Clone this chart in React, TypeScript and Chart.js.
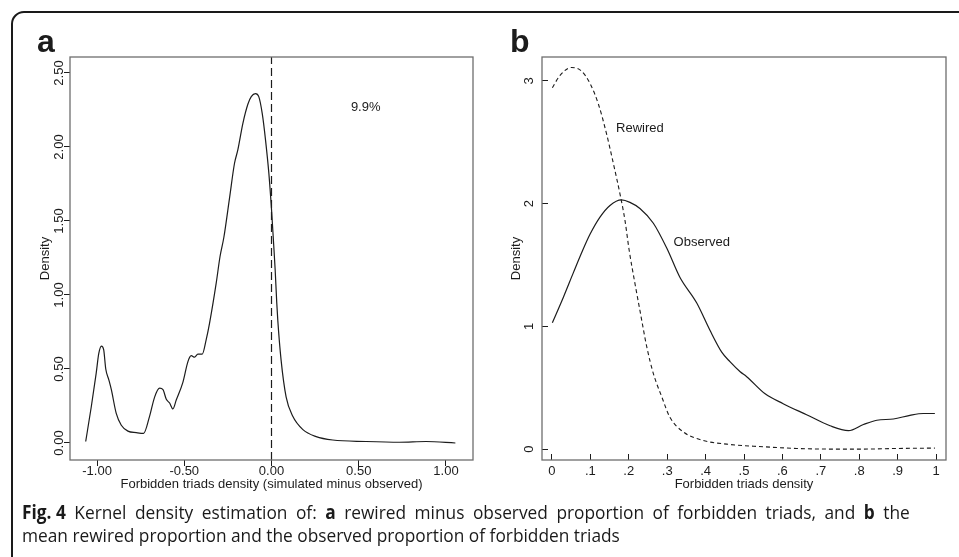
import { useEffect, useLayoutEffect, useRef, useState } from "react";
import { Chart, registerables } from "chart.js";

Chart.register(...registerables);

// ---- Panel a: simulated minus observed forbidden-triad density ----
const diffX = [
  -1.065, -1.033, -1.005, -0.99, -0.975, -0.962, -0.95, -0.932, -0.918, -0.89,
  -0.861, -0.823, -0.775, -0.733, -0.699, -0.67, -0.641, -0.622, -0.603, -0.584,
  -0.565, -0.546, -0.508, -0.479, -0.46, -0.441, -0.422, -0.397, -0.374, -0.355,
  -0.317, -0.295, -0.273, -0.24, -0.212, -0.193, -0.164, -0.135, -0.116, -0.092,
  -0.073, -0.053, -0.034, -0.015, 0.0, 0.012, 0.021, 0.03, 0.036, 0.055,
  0.084, 0.122, 0.18, 0.256, 0.351, 0.542, 0.733, 0.886, 1.054,
];
const diffDensity = [
  0.01, 0.245, 0.47, 0.605, 0.655, 0.63, 0.5, 0.425, 0.36, 0.2,
  0.12, 0.08, 0.07, 0.065, 0.18, 0.31, 0.37, 0.36, 0.295, 0.27,
  0.23, 0.29, 0.41, 0.55, 0.59, 0.58, 0.6, 0.6, 0.7, 0.81,
  1.08, 1.26, 1.39, 1.66, 1.89, 1.98, 2.16, 2.29, 2.34, 2.36,
  2.34, 2.225, 2.045, 1.82, 1.58, 1.35, 1.17, 0.95, 0.83, 0.56,
  0.31, 0.18, 0.09, 0.043, 0.02, 0.01, 0.005, 0.01, 0.0,
];
const diffTicksX = [-1, -0.5, 0, 0.5, 1];
const diffTicksY = [0, 0.5, 1, 1.5, 2, 2.5];
const diffRefX = 0; // observed value marker
const diffShareLabel = "9.9%";
const diffShareAt = { x: 0.54, y: 2.27 };
const diffXRange = [-1.155, 1.155];
const diffYRange = [-0.115, 2.608];

// ---- Panel b: rewired vs observed proportion ----
const observedX = [
  0.001, 0.03, 0.056, 0.08, 0.099, 0.125, 0.151, 0.181, 0.203, 0.229,
  0.264, 0.3, 0.333, 0.377, 0.411, 0.442, 0.464, 0.49, 0.507,
  0.555, 0.602, 0.663, 0.724, 0.772, 0.811, 0.846, 0.889, 0.932, 0.967, 0.997,
];
const observedDensity = [
  1.03, 1.24, 1.44, 1.62, 1.75, 1.89, 1.985, 2.03, 2.01, 1.96,
  1.84, 1.63, 1.4, 1.19, 0.97, 0.79, 0.71, 0.63, 0.59,
  0.45, 0.37, 0.28, 0.19, 0.15, 0.2, 0.235, 0.245, 0.275, 0.29, 0.29,
];
const rewiredX = [
  0.001, 0.021, 0.051, 0.077, 0.099, 0.121, 0.142, 0.16, 0.177, 0.19,
  0.201, 0.216, 0.229, 0.247, 0.264, 0.286, 0.307, 0.342, 0.394, 0.455,
  0.55, 0.637, 0.724, 0.81, 0.898, 0.997,
];
const rewiredDensity = [
  2.945, 3.045, 3.11, 3.08, 2.98, 2.81, 2.57, 2.325, 2.08, 1.865,
  1.62, 1.35, 1.13, 0.83, 0.615, 0.425, 0.26, 0.14, 0.07, 0.04,
  0.019, 0.005, 0.0, 0.0, 0.005, 0.008,
];
const propTicksX = [0, 0.1, 0.2, 0.3, 0.4, 0.5, 0.6, 0.7, 0.8, 0.9, 1];
const propTickLabels = ["0", ".1", ".2", ".3", ".4", ".5", ".6", ".7", ".8", ".9", "1"];
const propTicksY = [0, 1, 2, 3];
const rewiredLabel = { text: "Rewired", x: 0.229, y: 2.61 };
const observedLabel = { text: "Observed", x: 0.39, y: 1.68 };
const propXRange = [-0.026, 1.026];
const propYRange = [-0.089, 3.195];

const FONT = '"Liberation Sans", Arial, Helvetica, sans-serif';
const INK = "#1c1c1c";
const BOX = "#6e6e6e";

type PanelText = {
  letter: string;
  letterX: number;
  yTicks: number[];
  yTickFmt: (v: number) => string;
  yLabelX: number;
  yTitleX: number;
  xTitle: string;
  xTitleY: number;
  notes: { text: string; x: number; y: number }[];
};

function decorPlugin(t: PanelText) {
  return {
    id: "panelDecor",
    afterDraw(chart: any) {
      const { ctx, chartArea: a, scales } = chart;
      ctx.save();
      // plot frame
      ctx.strokeStyle = BOX;
      ctx.lineWidth = 1.3;
      ctx.strokeRect(a.left, a.top, a.right - a.left, a.bottom - a.top);

      ctx.fillStyle = INK;
      // vertical y tick labels
      ctx.font = `13px ${FONT}`;
      ctx.textAlign = "center";
      ctx.textBaseline = "middle";
      for (const v of t.yTicks) {
        const py = scales.y.getPixelForValue(v);
        ctx.save();
        ctx.translate(t.yLabelX, py);
        ctx.rotate(-Math.PI / 2);
        ctx.fillText(t.yTickFmt(v), 0, 0);
        ctx.restore();
      }
      // axis titles
      ctx.save();
      ctx.translate(t.yTitleX, (a.top + a.bottom) / 2);
      ctx.rotate(-Math.PI / 2);
      ctx.fillText("Density", 0, 0);
      ctx.restore();
      ctx.fillText(t.xTitle, (a.left + a.right) / 2, t.xTitleY);

      // in-plot notes
      for (const n of t.notes) {
        ctx.fillText(n.text, scales.x.getPixelForValue(n.x), scales.y.getPixelForValue(n.y));
      }

      // panel letter
      ctx.font = `bold 32px ${FONT}`;
      ctx.textAlign = "left";
      ctx.textBaseline = "alphabetic";
      ctx.fillText(t.letter, t.letterX, 52);
      ctx.restore();
    },
  };
}

// tickLen > 0: marks point outward; < 0: marks point into the plot
function axisX(
  range: number[],
  ticks: number[],
  fmt: (v: number, i: number) => string,
  tickLen: number,
) {
  return {
    type: "linear" as const,
    min: range[0],
    max: range[1],
    afterBuildTicks: (s: any) => {
      s.ticks = ticks.map((value) => ({ value }));
    },
    afterFit: (s: any) => {
      s.height = 40;
    },
    ticks: {
      autoSkip: false,
      maxRotation: 0,
      minRotation: 0,
      padding: 3.5 - tickLen,
      color: INK,
      font: { family: FONT, size: 13 },
      callback: (v: any, i: number) => fmt(Number(v), i),
    },
    grid: { drawOnChartArea: false, drawTicks: true, tickLength: tickLen, color: INK, lineWidth: 1 },
    border: { display: false },
  };
}

function axisY(range: number[], ticks: number[], tickLen: number) {
  return {
    type: "linear" as const,
    min: range[0],
    max: range[1],
    afterBuildTicks: (s: any) => {
      s.ticks = ticks.map((value) => ({ value }));
    },
    afterFit: (s: any) => {
      s.width = 8;
    },
    ticks: { display: false },
    grid: { drawOnChartArea: false, drawTicks: true, tickLength: tickLen, color: INK, lineWidth: 1 },
    border: { display: false },
  };
}

const pts = (xs: number[], ys: number[]) => xs.map((x, i) => ({ x, y: ys[i] }));

function DiffPanel() {
  const ref = useRef<HTMLCanvasElement>(null);
  useEffect(() => {
    const chart = new Chart(ref.current!, {
      type: "line",
      data: {
        datasets: [
          {
            data: pts(diffX, diffDensity),
            borderColor: INK,
            borderWidth: 1.2,
            pointRadius: 0,
            cubicInterpolationMode: "monotone",
            fill: false,
          },
          {
            data: [
              { x: diffRefX, y: diffYRange[0] },
              { x: diffRefX, y: diffYRange[1] },
            ],
            borderColor: INK,
            borderWidth: 1.2,
            borderDash: [8, 4],
            pointRadius: 0,
            fill: false,
          },
        ],
      },
      options: {
        animation: false,
        responsive: false,
        events: [],
        layout: { padding: { left: 62, top: 57, right: 7, bottom: 0 } },
        plugins: { legend: { display: false }, tooltip: { enabled: false } },
        scales: {
          x: axisX(diffXRange, diffTicksX, (v) => v.toFixed(2), 6),
          y: axisY(diffYRange, diffTicksY, 6),
        },
      },
      plugins: [
        decorPlugin({
          letter: "a",
          letterX: 37,
          yTicks: diffTicksY,
          yTickFmt: (v) => v.toFixed(2),
          yLabelX: 59.5,
          yTitleX: 45,
          xTitle: "Forbidden triads density (simulated minus observed)",
          xTitleY: 484,
          notes: [{ text: diffShareLabel, x: diffShareAt.x, y: diffShareAt.y }],
        }),
      ],
    } as any);
    return () => chart.destroy();
  }, []);
  return (
    <canvas
      ref={ref}
      width={480}
      height={500}
      style={{ position: "absolute", left: 0, top: 0, width: 480, height: 500 }}
    />
  );
}

function PropPanel() {
  const ref = useRef<HTMLCanvasElement>(null);
  useEffect(() => {
    const chart = new Chart(ref.current!, {
      type: "line",
      data: {
        datasets: [
          {
            data: pts(observedX, observedDensity),
            borderColor: INK,
            borderWidth: 1.2,
            pointRadius: 0,
            cubicInterpolationMode: "monotone",
            fill: false,
          },
          {
            data: pts(rewiredX, rewiredDensity),
            borderColor: INK,
            borderWidth: 1.1,
            borderDash: [4, 3],
            pointRadius: 0,
            cubicInterpolationMode: "monotone",
            fill: false,
          },
        ],
      },
      options: {
        animation: false,
        responsive: false,
        events: [],
        layout: { padding: { left: 54, top: 57, right: 13, bottom: 0 } },
        plugins: { legend: { display: false }, tooltip: { enabled: false } },
        scales: {
          x: axisX(propXRange, propTicksX, (_v, i) => propTickLabels[i], -6),
          y: axisY(propYRange, propTicksY, -6),
        },
      },
      plugins: [
        decorPlugin({
          letter: "b",
          letterX: 30,
          yTicks: propTicksY,
          yTickFmt: (v) => String(v),
          yLabelX: 49,
          yTitleX: 36.5,
          xTitle: "Forbidden triads density",
          xTitleY: 484,
          notes: [rewiredLabel, observedLabel],
        }),
      ],
    } as any);
    return () => chart.destroy();
  }, []);
  return (
    <canvas
      ref={ref}
      width={479}
      height={500}
      style={{ position: "absolute", left: 480, top: 0, width: 479, height: 500 }}
    />
  );
}

// Figure caption, justified: the last line sets the condensed letter width,
// the first line gets extra word spacing to fill the column.
const CAPTION_COLUMN = 892;
const CAPTION_LAST_LINE = 598;
const CAPTION_FIRST_GAPS = 16;

function Caption() {
  const first = useRef<SVGTextElement>(null);
  const last = useRef<SVGTextElement>(null);
  const [fit, setFit] = useState({ sx: 0.85, gap: 0 });
  useLayoutEffect(() => {
    const measure = () => {
      const w2 = last.current ? last.current.getComputedTextLength() : 0;
      const w1 = first.current ? first.current.getComputedTextLength() : 0;
      if (w1 > 0 && w2 > 0) {
        const sx = CAPTION_LAST_LINE / w2;
        const natural = w1 - CAPTION_FIRST_GAPS * fit.gap;
        setFit({ sx, gap: Math.max(0, (CAPTION_COLUMN / sx - natural) / CAPTION_FIRST_GAPS) });
      }
    };
    measure();
    if ((document as any).fonts) (document as any).fonts.ready.then(measure);
  }, []);
  return (
    <svg
      width={959}
      height={67}
      style={{ position: "absolute", left: 0, top: 490 }}
      fontFamily='"Open Sans", "Noto Sans", sans-serif'
      fontSize={19}
      fill="#1a1a1a"
    >
      <g transform={`translate(22 0) scale(${fit.sx} 1)`}>
        <text ref={first} x={0} y={29}>
          <tspan fontWeight="bold">Fig. 4</tspan>
          <tspan dx={fit.gap}> Kernel</tspan>
          <tspan dx={fit.gap}> density</tspan>
          <tspan dx={fit.gap}> estimation</tspan>
          <tspan dx={fit.gap}> of:</tspan>
          <tspan dx={fit.gap} fontWeight="bold"> a</tspan>
          <tspan dx={fit.gap}> rewired</tspan>
          <tspan dx={fit.gap}> minus</tspan>
          <tspan dx={fit.gap}> observed</tspan>
          <tspan dx={fit.gap}> proportion</tspan>
          <tspan dx={fit.gap}> of</tspan>
          <tspan dx={fit.gap}> forbidden</tspan>
          <tspan dx={fit.gap}> triads,</tspan>
          <tspan dx={fit.gap}> and</tspan>
          <tspan dx={fit.gap} fontWeight="bold"> b</tspan>
          <tspan dx={fit.gap}> the</tspan>
        </text>
        <text ref={last} x={0} y={52}>
          mean rewired proportion and the observed proportion of forbidden triads
        </text>
      </g>
    </svg>
  );
}

export default function App() {
  return (
    <div
      style={{
        position: "absolute",
        left: 0,
        top: 0,
        width: 959,
        height: 557,
        overflow: "hidden",
        background: "#fff",
      }}
    >
      <div
        style={{
          position: "absolute",
          left: 11,
          top: 11,
          width: 2000,
          height: 2000,
          border: "2px solid #1a1a1a",
          borderRadius: 13,
        }}
      />
      <DiffPanel />
      <PropPanel />
      <Caption />
    </div>
  );
}
